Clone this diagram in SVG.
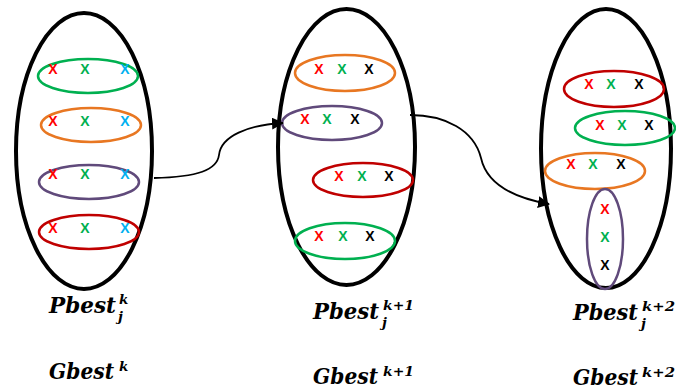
<svg xmlns="http://www.w3.org/2000/svg" width="676" height="392" viewBox="0 0 676 392">
<style>
.big{fill:none;stroke:#000;stroke-width:4}
.in{fill:none;stroke-width:2.5}
.g{stroke:#00B050}.o{stroke:#E87722}.p{stroke:#604A7B}.d{stroke:#C00000}
.x{font-family:"Liberation Sans",Arial,sans-serif;font-weight:bold;font-size:14px;text-anchor:middle}
.r{fill:#FF0000}.gr{fill:#00B050}.b{fill:#00B0F0}.k{fill:#000}
.lab{font-family:"DejaVu Serif","Liberation Serif",serif;font-weight:bold;font-style:italic;font-size:22px;fill:#000}
.sup{font-family:"DejaVu Serif","Liberation Serif",serif;font-weight:bold;font-style:italic;font-size:13.5px;fill:#000}
.con{fill:none;stroke:#000;stroke-width:1.8}
</style>
<defs>
<marker id="arr" markerUnits="userSpaceOnUse" markerWidth="12" markerHeight="12" refX="11" refY="6" orient="auto">
<path d="M0,0 L12,6 L0,12 z" fill="#000"/>
</marker>
</defs>
<g id="swarm-k">
<ellipse class="big" cx="84" cy="151" rx="68" ry="138"/>
<ellipse class="in g" cx="88" cy="76" rx="50" ry="17"/>
<ellipse class="in o" cx="91" cy="125" rx="50" ry="17"/>
<ellipse class="in p" cx="89" cy="182" rx="50" ry="17"/>
<ellipse class="in d" cx="89" cy="232" rx="50" ry="17"/>
<text class="x r" x="53" y="74">X</text><text class="x gr" x="85" y="74">X</text><text class="x b" x="125" y="74">X</text>
<text class="x r" x="53" y="126">X</text><text class="x gr" x="85" y="126">X</text><text class="x b" x="125" y="126">X</text>
<text class="x r" x="53" y="179">X</text><text class="x gr" x="85" y="179">X</text><text class="x b" x="125" y="179">X</text>
<text class="x r" x="53" y="233">X</text><text class="x gr" x="85" y="233">X</text><text class="x b" x="125" y="233">X</text>
</g>
<g id="swarm-k1">
<ellipse class="big" cx="346.5" cy="147" rx="68.5" ry="138"/>
<ellipse class="in o" cx="345" cy="73" rx="50" ry="18"/>
<ellipse class="in p" cx="332" cy="123" rx="50" ry="17"/>
<ellipse class="in d" cx="363" cy="180" rx="50" ry="17"/>
<ellipse class="in g" cx="345" cy="241" rx="50" ry="18"/>
<text class="x r" x="319" y="74">X</text><text class="x gr" x="342" y="74">X</text><text class="x k" x="369" y="74">X</text>
<text class="x r" x="305" y="124">X</text><text class="x gr" x="327" y="124">X</text><text class="x k" x="355" y="124">X</text>
<text class="x r" x="339" y="181">X</text><text class="x gr" x="362" y="181">X</text><text class="x k" x="389" y="181">X</text>
<text class="x r" x="319" y="241">X</text><text class="x gr" x="343" y="241">X</text><text class="x k" x="370" y="241">X</text>
</g>
<g id="swarm-k2">
<ellipse class="big" cx="606" cy="148.5" rx="65" ry="139.5"/>
<ellipse class="in d" cx="614" cy="89" rx="50" ry="18"/>
<ellipse class="in g" cx="625" cy="128" rx="50" ry="17"/>
<ellipse class="in o" cx="595" cy="171" rx="50" ry="18"/>
<ellipse class="in p" cx="605" cy="239" rx="18" ry="50"/>
<text class="x r" x="589" y="89">X</text><text class="x gr" x="611" y="89">X</text><text class="x k" x="639" y="89">X</text>
<text class="x r" x="600" y="130">X</text><text class="x gr" x="622" y="130">X</text><text class="x k" x="649" y="130">X</text>
<text class="x r" x="571" y="169">X</text><text class="x gr" x="593" y="169">X</text><text class="x k" x="621" y="169">X</text>
<text class="x r" x="605" y="214">X</text><text class="x gr" x="605" y="242">X</text><text class="x k" x="605" y="270">X</text>
</g>
<g id="connectors">
<path class="con" d="M154,178 C198,177 217,170 219,155 C221,136 248,125 283,123" marker-end="url(#arr)"/>
<path class="con" d="M410,115 C445,115 474,130 481,158 C487,185 515,198 549,204" marker-end="url(#arr)"/>
</g>
<g id="labels-k">
<text class="lab" x="49" y="313" textLength="67" lengthAdjust="spacingAndGlyphs">Pbest</text>
<text class="sup" x="119" y="304">k</text>
<text class="sup" x="118" y="321">j</text>
<text class="lab" x="49" y="379" textLength="65" lengthAdjust="spacingAndGlyphs">Gbest</text>
<text class="sup" x="119" y="371">k</text>
</g>
<g id="labels-k1">
<text class="lab" x="313" y="319" textLength="66" lengthAdjust="spacingAndGlyphs">Pbest</text>
<text class="sup" x="383" y="310" textLength="31" lengthAdjust="spacingAndGlyphs">k+1</text>
<text class="sup" x="382" y="327">j</text>
<text class="lab" x="313" y="384" textLength="65" lengthAdjust="spacingAndGlyphs">Gbest</text>
<text class="sup" x="383" y="376" textLength="31" lengthAdjust="spacingAndGlyphs">k+1</text>
</g>
<g id="labels-k2">
<text class="lab" x="573" y="320" textLength="65" lengthAdjust="spacingAndGlyphs">Pbest</text>
<text class="sup" x="642" y="311" textLength="33" lengthAdjust="spacingAndGlyphs">k+2</text>
<text class="sup" x="641" y="328">j</text>
<text class="lab" x="573" y="385" textLength="65" lengthAdjust="spacingAndGlyphs">Gbest</text>
<text class="sup" x="642" y="377" textLength="33" lengthAdjust="spacingAndGlyphs">k+2</text>
</g>
</svg>
